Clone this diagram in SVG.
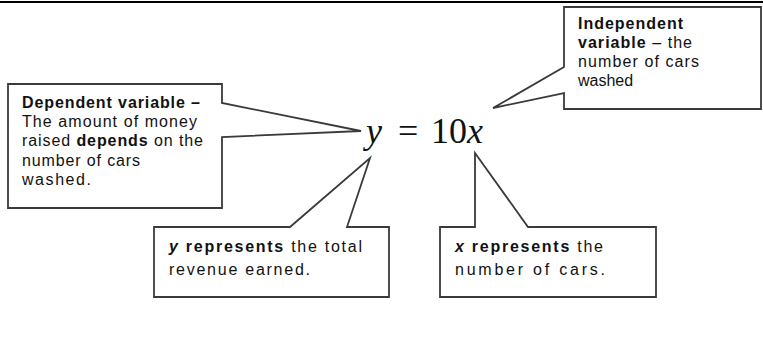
<svg xmlns="http://www.w3.org/2000/svg" width="763" height="339" viewBox="0 0 763 339">
<style>
.box{fill:#fff;stroke:#3a3a3a;stroke-width:1.8;stroke-linejoin:miter}
.t{font-family:"Liberation Sans",Arial,sans-serif;font-size:16px;fill:#111}
.b{font-weight:bold}
.bi{font-weight:bold;font-style:italic}
.m{font-family:"Liberation Serif","Times New Roman",serif;font-size:36px;fill:#111}
.i{font-style:italic}
</style>
<rect width="763" height="339" fill="#fff"/>
<line x1="0" y1="2" x2="763" y2="2" stroke="#000" stroke-width="2"/>
<g id="equation">
<text class="m" y="143"><tspan class="i" x="366">y</tspan><tspan x="398">=</tspan><tspan x="431">10</tspan><tspan class="i" x="467">x</tspan></text>
</g>
<g id="dependent">
<path class="box" d="M8,84 H222 V103 L361,131 L222,137 V208 H8 Z"/>
<text class="t" x="22" y="108" textLength="178" lengthAdjust="spacing"><tspan class="b">Dependent variable –</tspan></text>
<text class="t" x="22" y="127" textLength="175" lengthAdjust="spacing">The amount of money</text>
<text class="t" x="22" y="146" textLength="181" lengthAdjust="spacing">raised <tspan class="b">depends</tspan> on the</text>
<text class="t" x="22" y="166" textLength="118" lengthAdjust="spacing">number of cars</text>
<text class="t" x="22" y="185" textLength="69" lengthAdjust="spacing">washed.</text>
</g>
<g id="independent">
<path class="box" d="M564,7 H761 V109 H564 V93 L493,108 L564,67 Z"/>
<text class="t b" x="578" y="29" textLength="105" lengthAdjust="spacing">Independent</text>
<text class="t" x="578" y="48" textLength="114" lengthAdjust="spacing"><tspan class="b">variable</tspan> – the</text>
<text class="t" x="578" y="67" textLength="121" lengthAdjust="spacing">number of cars</text>
<text class="t" x="578" y="86">washed</text>
</g>
<g id="y-represents">
<path class="box" d="M154,227 H290 L370,158 L347,227 H389 V297 H154 Z"/>
<text class="t" x="169" y="252" textLength="193" lengthAdjust="spacing"><tspan class="bi">y</tspan><tspan class="b"> represents</tspan> the total</text>
<text class="t" x="169" y="275" textLength="141" lengthAdjust="spacing">revenue earned.</text>
</g>
<g id="x-represents">
<path class="box" d="M440,227 H475 V153 L528,227 H656 V297 H440 Z"/>
<text class="t" x="455" y="252" textLength="148" lengthAdjust="spacing"><tspan class="bi">x</tspan><tspan class="b"> represents</tspan> the</text>
<text class="t" x="455" y="275" textLength="150" lengthAdjust="spacing">number of cars.</text>
</g>
</svg>
